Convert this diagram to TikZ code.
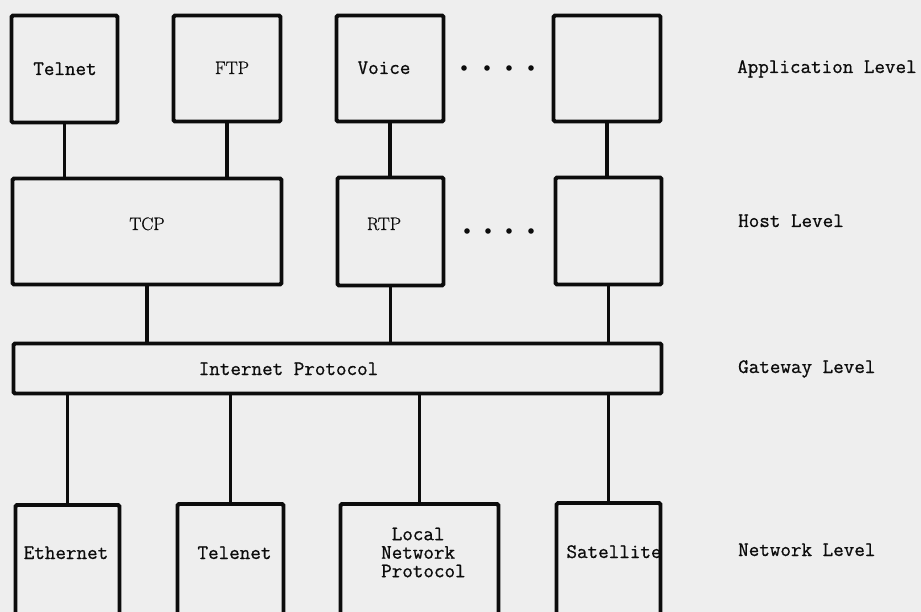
\documentclass[tikz,border=0pt]{standalone}
\usepackage{fontspec}
\newfontfamily\twfont[FakeBold=0.8]{Latin Modern Mono}
\newfontfamily\romfont[FakeBold=0.6]{Latin Modern Roman}
\definecolor{bg}{RGB}{238,238,238}
\definecolor{ink}{RGB}{12,12,12}
\tikzset{
  box/.style={draw=ink, line width=3.9pt, fill=bg, rounded corners=1.5pt, inner sep=0pt, anchor=center},
  conn/.style={draw=ink, line width=3.6pt},
  tt/.style={font=\fontsize{20.5}{18.5}\selectfont\twfont, text=ink, inner sep=0pt},
  rm/.style={font=\fontsize{18}{20}\selectfont\romfont, text=ink, inner sep=0pt},
  lvl/.style={tt, anchor=base west},
  ctr/.style={anchor=base},
  dotmark/.style={fill=ink}
}
\begin{document}
\begin{tikzpicture}[x=1pt,y=-1pt]
\clip (0,0) rectangle (921,612);
\fill[bg] (0,0) rectangle (921,612);
% application level boxes
\node[box, minimum width=106pt, minimum height=107pt] (telnet) at (64.5,69) {};
\node[box, minimum width=107pt, minimum height=106pt] (ftp) at (227,68.5) {};
\node[box, minimum width=107pt, minimum height=106pt] (voice) at (390,68.5) {};
\node[box, minimum width=107pt, minimum height=106pt] (app4) at (607,68.5) {};
% host level boxes
\node[box, minimum width=269pt, minimum height=106pt] (tcp) at (147,231.5) {};
\node[box, minimum width=106pt, minimum height=108pt] (rtp) at (390.5,231.5) {};
\node[box, minimum width=106pt, minimum height=107pt] (host4) at (608.5,231) {};
% gateway
\node[box, minimum width=648pt, minimum height=50pt] (ip) at (337.5,368.5) {};
% network level boxes (run off the bottom edge)
\node[box, minimum width=104pt, minimum height=135pt] (eth) at (67.5,572.5) {};
\node[box, minimum width=106pt, minimum height=135pt] (telenet) at (230.5,571.5) {};
\node[box, minimum width=158pt, minimum height=135pt] (lnp) at (419.5,571.5) {};
\node[box, minimum width=104pt, minimum height=135pt] (sat) at (608.5,570.5) {};
% connectors
\draw[conn] (telnet.south) -- (telnet.south |- tcp.north);
\draw[conn] (ftp.south) -- (ftp.south |- tcp.north);
\draw[conn] (voice.south) -- (voice.south |- rtp.north);
\draw[conn] (app4.south) -- (app4.south |- host4.north);
\draw[conn] (tcp.south) -- (tcp.south |- ip.north);
\draw[conn] (rtp.south) -- (rtp.south |- ip.north);
\draw[conn] (host4.south) -- (host4.south |- ip.north);
\draw[conn] (eth.north) -- (eth.north |- ip.south);
\draw[conn] (telenet.north) -- (telenet.north |- ip.south);
\draw[conn] (lnp.north) -- (lnp.north |- ip.south);
\draw[conn] (sat.north) -- (sat.north |- ip.south);
% texts
\node[tt, ctr] (telnettxt) at (65,75) {Telnet};
\node[rm, ctr] (ftptxt) at (232,74) {FTP};
\node[tt, ctr] (voicetxt) at (384,74) {Voice};
\node[rm, ctr] (tcptxt) at (147,230) {TCP};
\node[rm, ctr] (rtptxt) at (384,230) {RTP};
\node[tt, ctr] (iptxt) at (288.5,375) {Internet Protocol};
\node[tt, ctr] (ethtxt) at (66,559) {Ethernet};
\node[tt, ctr] (telenettxt) at (234.5,559) {Telenet};
\node[tt, anchor=north west, align=left] (lnptxt) at (381,527.5) {\hphantom{L}Local\\Network\\Protocol};
\node[tt, ctr] (sattxt) at (614,558) {Satellite};
% dots
\foreach \x in {464,487,509,531} \fill[dotmark] (\x,68) circle[radius=2.8];
\foreach \x in {467,488,509,531} \fill[dotmark] (\x,231) circle[radius=2.8];
% level labels
\node[lvl] (lapp) at (737,73) {Application Level};
\node[lvl] (lhost) at (738,227) {Host Level};
\node[lvl] (lgw) at (738,373) {Gateway Level};
\node[lvl] (lnet) at (738,556) {Network Level};
\end{tikzpicture}
\end{document}
